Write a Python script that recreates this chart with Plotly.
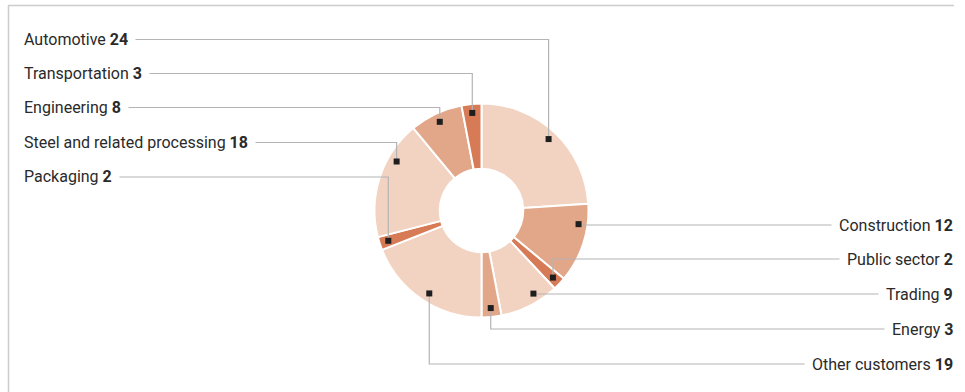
import math
import plotly.graph_objects as go

# ---- data (clockwise from 12 o'clock) ----
categories = ["Automotive", "Construction", "Public sector", "Trading", "Energy",
              "Other customers", "Packaging", "Steel and related processing",
              "Engineering", "Transportation"]
values = [24, 12, 2, 9, 3, 19, 2, 18, 8, 3]
shade = ["light", "medium", "dark", "light", "medium",
         "light", "dark", "light", "medium", "dark"]

left_labels = ["Automotive", "Transportation", "Engineering",
               "Steel and related processing", "Packaging"]
right_labels = ["Construction", "Public sector", "Trading", "Energy", "Other customers"]

# ---- layout / style ----
W, H = 965, 392
CX, CY, R = 481.5, 210.5, 107.0
HOLE = 0.39
MARK_R = 98.0
LEFT_TEXT_X, RIGHT_TEXT_X = 24, 953
LEFT_ROWS = [39.5, 73.5, 107.5, 142.5, 177.0]
RIGHT_ROWS = [225.0, 259.0, 294.0, 329.0, 364.0]
ANGLE_NUDGE = {"Steel and related processing": 12, "Construction": -10,
               "Trading": -5, "Other customers": -2}
PALETTE = {"light": "#F2D3C1", "medium": "#E2A789", "dark": "#D77B56"}
LINE_COLOR = "#B4B4B4"
FRAME_COLOR = "#CCCCCC"
FONT = "Roboto"
FONT_SIZE = 16
PAD = 7


def px(x):
    return x / W


def py(y):
    return 1 - y / H


fig = go.Figure()
fig.add_trace(go.Pie(
    labels=categories, values=values, sort=False, direction="clockwise",
    rotation=0, hole=HOLE, textinfo="none", hoverinfo="label+value",
    marker=dict(colors=[PALETTE[s] for s in shade], line=dict(color="white", width=2)),
    domain=dict(x=[px(CX - R), px(CX + R)], y=[py(CY + R), py(CY - R)]),
    showlegend=False,
))

total = sum(values)
shapes = []
annotations = []
cum = 0
anchor = {}
for cat, v in zip(categories, values):
    mid = (cum + v / 2) / total * 360 + ANGLE_NUDGE.get(cat, 0)
    cum += v
    a = math.radians(mid)
    mx = CX + MARK_R * math.sin(a)
    my = CY - MARK_R * math.cos(a)
    anchor[cat] = (mx, my)


def add_leader(cat, row_y, side):
    mx, my = anchor[cat]
    tx = LEFT_TEXT_X if side == "left" else RIGHT_TEXT_X
    path = f"M {px(mx)},{py(my)} L {px(mx)},{py(row_y)} L {px(tx)},{py(row_y)}"
    shapes.append(dict(type="path", path=path, xref="paper", yref="paper",
                       line=dict(color=LINE_COLOR, width=1.2), layer="above"))
    shapes.append(dict(type="rect", xref="paper", yref="paper",
                       x0=px(mx - 3), x1=px(mx + 3), y0=py(my - 3), y1=py(my + 3),
                       fillcolor="#1E1E1E", line=dict(width=0), layer="above"))
    val = values[categories.index(cat)]
    annotations.append(dict(
        text=f"{cat} <b>{val}</b>", xref="paper", yref="paper",
        x=px(tx - PAD - 1) if side == "left" else px(tx + PAD + 1), y=py(row_y),
        xanchor="left" if side == "left" else "right", yanchor="middle",
        showarrow=False, bgcolor="white", borderpad=PAD,
        font=dict(family=FONT, size=FONT_SIZE, color="#2A2A2A")))


for cat, ry in zip(left_labels, LEFT_ROWS):
    add_leader(cat, ry, "left")
for cat, ry in zip(right_labels, RIGHT_ROWS):
    add_leader(cat, ry, "right")

# frame lines (top and left)
shapes.append(dict(type="line", xref="paper", yref="paper", x0=px(8), x1=px(954),
                   y0=py(5.5), y1=py(5.5), line=dict(color=FRAME_COLOR, width=1.5)))
shapes.append(dict(type="line", xref="paper", yref="paper", x0=px(8.5), x1=px(8.5),
                   y0=py(5.5), y1=py(392), line=dict(color=FRAME_COLOR, width=1.5)))

fig.update_layout(
    width=W, height=H, margin=dict(l=0, r=0, t=0, b=0),
    paper_bgcolor="white", plot_bgcolor="white",
    shapes=shapes, annotations=annotations, showlegend=False,
    font=dict(family=FONT),
)
fig.write_html("out.html")
